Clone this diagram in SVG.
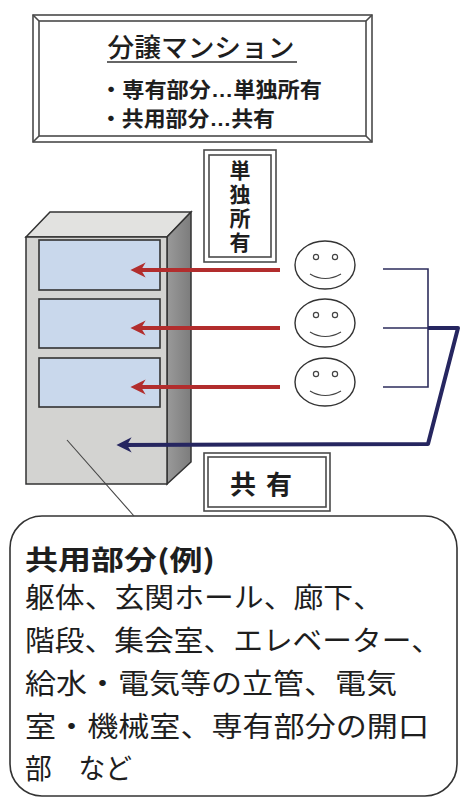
<svg xmlns="http://www.w3.org/2000/svg" width="461" height="799" viewBox="0 0 461 799">
  <style>
    .jp { font-family: "Noto Sans CJK JP", "Liberation Sans", sans-serif; fill: #1e1e1e; }
    .b { font-weight: bold; }
    .dots { font-family: "Liberation Sans", sans-serif; }
    .frame { fill: none; stroke: #4a4a4a; stroke-width: 1.6; }
    .panel { fill: #c9d8ec; stroke: #333; stroke-width: 1.6; }
    .face { fill: #fff; stroke: #333; stroke-width: 1.4; }
    .eye { fill: none; stroke: #444; stroke-width: 1.2; }
    .own { fill: none; stroke: #b22d2d; stroke-width: 4; }
    .bracket { fill: none; stroke: #2d2d5c; stroke-width: 1.6; }
    .shared { fill: none; stroke: #262660; stroke-width: 4; stroke-linejoin: round; }
  </style>
  <defs>
    <marker id="redHead" viewBox="0 0 10 10" refX="7" refY="5" markerWidth="4.2" markerHeight="3.8" orient="auto" markerUnits="strokeWidth">
      <path d="M0,0 L10,5 L0,10 L3,5 Z" fill="#b22d2d"/>
    </marker>
    <marker id="navyHead" viewBox="0 0 10 10" refX="7" refY="5" markerWidth="4.2" markerHeight="3.8" orient="auto" markerUnits="strokeWidth">
      <path d="M0,0 L10,5 L0,10 L3,5 Z" fill="#262660"/>
    </marker>
    <linearGradient id="sideShade" x1="0" y1="0" x2="1" y2="0">
      <stop offset="0" stop-color="#9a9a9a"/>
      <stop offset="1" stop-color="#7c7c7c"/>
    </linearGradient>
  </defs>

  <rect width="461" height="799" fill="#fff"/>

  <!-- title panel -->
  <g id="title">
    <rect x="33" y="15" width="339" height="127" class="frame"/>
    <rect x="39" y="21" width="327" height="115" class="frame"/>
    <path d="M33,15 L39,21 M372,15 L366,21 M33,142 L39,136 M372,142 L366,136" class="frame"/>
    <text x="201" y="57" class="jp" font-size="26" font-weight="500" text-anchor="middle" textLength="187" lengthAdjust="spacingAndGlyphs">分譲マンション</text>
    <line x1="107" y1="62" x2="297" y2="62" stroke="#333" stroke-width="1.6"/>
    <text x="100" y="97" class="jp b" font-size="21" textLength="222" lengthAdjust="spacingAndGlyphs">・専有部分<tspan class="dots">…</tspan>単独所有</text>
    <text x="100" y="126" class="jp b" font-size="21" textLength="175" lengthAdjust="spacingAndGlyphs">・共用部分<tspan class="dots">…</tspan>共有</text>
  </g>

  <!-- label: sole ownership (vertical) -->
  <g id="label-sole">
    <rect x="204" y="150" width="72" height="112" class="frame" fill="#fbfaf8"/>
    <rect x="209" y="155" width="62" height="102" class="frame"/>
    <text x="240" y="160" class="jp b" font-size="21" writing-mode="vertical-rl" letter-spacing="3">単独所有</text>
  </g>

  <!-- building -->
  <g id="building">
    <path d="M26,237 L50,212 L191,212 L167,237 Z" fill="#e2e2e0" stroke="#333" stroke-width="1.5"/>
    <path d="M167,237 L191,212 L191,462 L167,484 Z" fill="url(#sideShade)" stroke="#333" stroke-width="1.5"/>
    <rect x="26" y="237" width="141" height="247" fill="#d3d3d1" stroke="#333" stroke-width="1.5"/>
    <rect x="39" y="240" width="121" height="50" class="panel"/>
    <rect x="39" y="299" width="121" height="49" class="panel"/>
    <rect x="39" y="358" width="121" height="49" class="panel"/>
  </g>

  <!-- owners -->
  <g id="owner-1">
    <ellipse cx="325" cy="265" rx="30" ry="24" class="face"/>
    <circle cx="316" cy="257" r="2.6" class="eye"/>
    <circle cx="335" cy="257" r="2.6" class="eye"/>
    <path d="M310,274 Q325,283 341,274" class="eye" stroke-width="1.6"/>
  </g>
  <g id="owner-2">
    <ellipse cx="325" cy="323" rx="30" ry="24" class="face"/>
    <circle cx="316" cy="315" r="2.6" class="eye"/>
    <circle cx="335" cy="315" r="2.6" class="eye"/>
    <path d="M310,332 Q325,341 341,332" class="eye" stroke-width="1.6"/>
  </g>
  <g id="owner-3">
    <ellipse cx="325" cy="382" rx="30" ry="24" class="face"/>
    <circle cx="316" cy="374" r="2.6" class="eye"/>
    <circle cx="335" cy="374" r="2.6" class="eye"/>
    <path d="M310,391 Q325,400 341,391" class="eye" stroke-width="1.6"/>
  </g>

  <!-- label: co-ownership -->
  <g id="label-shared">
    <rect x="204" y="453" width="126" height="58" class="frame" fill="#fbfbfb"/>
    <rect x="208" y="457" width="118" height="50" class="frame"/>
    <text x="266" y="494" class="jp b" font-size="26" text-anchor="middle" letter-spacing="10">共有</text>
  </g>

  <!-- common parts callout -->
  <g id="common-parts">
    <rect x="10" y="516" width="447" height="280" rx="32" ry="32" fill="#fff" stroke="#333" stroke-width="1.6"/>
    <text x="25" y="570" class="jp b" font-size="27" textLength="190" lengthAdjust="spacingAndGlyphs">共用部分(例)</text>
    <g class="jp" font-size="28">
      <text x="25" y="608" textLength="358" lengthAdjust="spacingAndGlyphs">躯体、玄関ホール、廊下、</text>
      <text x="25" y="651" textLength="416" lengthAdjust="spacingAndGlyphs">階段、集会室、エレベーター、</text>
      <text x="25" y="694" textLength="372" lengthAdjust="spacingAndGlyphs">給水・電気等の立管、電気</text>
      <text x="25" y="737" textLength="404" lengthAdjust="spacingAndGlyphs">室・機械室、専有部分の開口</text>
      <text x="25" y="779" textLength="107" lengthAdjust="spacingAndGlyphs">部　など</text>
    </g>
  </g>

  <!-- connectors -->
  <g id="connectors">
    <line x1="280" y1="270" x2="135" y2="270" class="own" marker-end="url(#redHead)"/>
    <line x1="280" y1="328" x2="135" y2="328" class="own" marker-end="url(#redHead)"/>
    <line x1="280" y1="387" x2="135" y2="387" class="own" marker-end="url(#redHead)"/>
    <path d="M383,269 L428,269 L428,387 L383,387 M383,328 L428,328" class="bracket"/>
    <path d="M428,328 L458,328 L428,444 L121,445" class="shared" marker-end="url(#navyHead)"/>
    <line x1="67" y1="440" x2="134" y2="516" stroke="#444" stroke-width="1.1"/>
  </g>
</svg>
